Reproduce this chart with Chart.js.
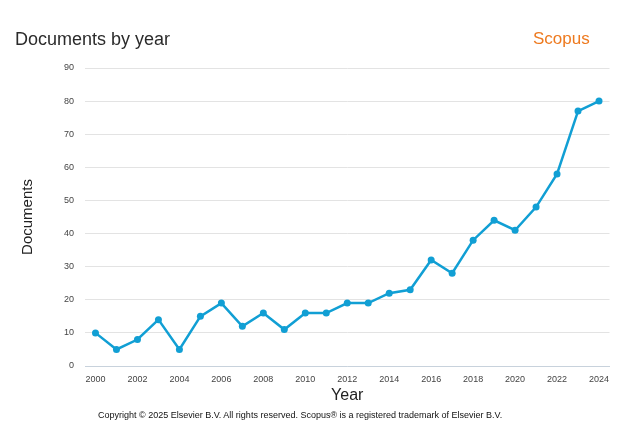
<!DOCTYPE html>
<html>
<head>
<meta charset="utf-8">
<script src="https://cdn.jsdelivr.net/npm/chart.js@4.4.1/dist/chart.umd.min.js"></script>
<style>
  html, body { margin: 0; padding: 0; background: #fff; }
  body { width: 630px; height: 433px; position: relative; overflow: hidden; font-family: "Liberation Sans", Arial, sans-serif; }
  #wrap { position: absolute; left: 0; top: 0; width: 630px; height: 433px; }
  #title { position: absolute; left: 15px; top: 29px; font-size: 18px; color: #2b2b2b; white-space: nowrap; }
  #brand { position: absolute; left: 533px; top: 29px; font-size: 17px; color: #ee7a1f; white-space: nowrap; }
  #copy { position: absolute; left: 98px; top: 410px; font-size: 9px; color: #111; white-space: nowrap; }
</style>
</head>
<body>
<div id="wrap"><canvas id="c" width="630" height="433"></canvas></div>
<div id="title">Documents by year</div>
<div id="brand">Scopus</div>
<div id="copy">Copyright © 2025 Elsevier B.V. All rights reserved. Scopus® is a registered trademark of Elsevier B.V.</div>
<script>
const years = ['2000','2001','2002','2003','2004','2005','2006','2007','2008','2009','2010','2011','2012','2013','2014','2015','2016','2017','2018','2019','2020','2021','2022','2023','2024'];
const documents = [10,5,8,14,5,15,19,12,16,11,16,16,19,19,22,23,32,28,38,44,41,48,58,77,80];
const yTicks = [0,10,20,30,40,50,60,70,80,90];

const lineColor = '#119fd4';

new Chart(document.getElementById('c'), {
  type: 'line',
  data: {
    labels: years,
    datasets: [{
      data: documents,
      borderColor: lineColor,
      backgroundColor: lineColor,
      borderWidth: 2.5,
      pointRadius: 3.5,
      pointBackgroundColor: lineColor,
      pointBorderWidth: 0,
      tension: 0,
      fill: false
    }]
  },
  options: {
    responsive: false,
    animation: false,
    devicePixelRatio: 1,
    layout: { padding: { left: 0, top: 68, right: 20.5, bottom: 28 } },
    plugins: { legend: { display: false }, tooltip: { enabled: false } },
    scales: {
      x: {
        type: 'category',
        offset: true,
        border: { display: true, color: '#c8d2dc', width: 1 },
        grid: { display: false, drawTicks: false },
        ticks: {
          autoSkip: false,
          maxRotation: 0,
          padding: 8,
          color: '#444',
          font: { family: 'Liberation Sans, Arial, sans-serif', size: 9 },
          callback: function(v, i) { return i % 2 === 0 ? years[i] : ''; }
        },
        title: {
          display: true,
          text: 'Year',
          color: '#222',
          padding: { top: 0, bottom: 0 },
          font: { family: 'Liberation Sans, Arial, sans-serif', size: 16 }
        },
        afterFit: function(s) { s.height = 39; }
      },
      y: {
        min: 0,
        max: 90,
        border: { display: false },
        grid: { color: '#e3e3e3', lineWidth: 1, drawTicks: false },
        afterBuildTicks: function(s) { s.ticks = yTicks.map(v => ({ value: v })); },
        ticks: {
          padding: 11,
          color: '#444',
          font: { family: 'Liberation Sans, Arial, sans-serif', size: 9 }
        },
        title: {
          display: true,
          text: 'Documents',
          color: '#222',
          padding: { top: 19, bottom: 0 },
          font: { family: 'Liberation Sans, Arial, sans-serif', size: 15 }
        },
        afterFit: function(s) { s.width = 85; }
      }
    }
  }
});
</script>
</body>
</html>
